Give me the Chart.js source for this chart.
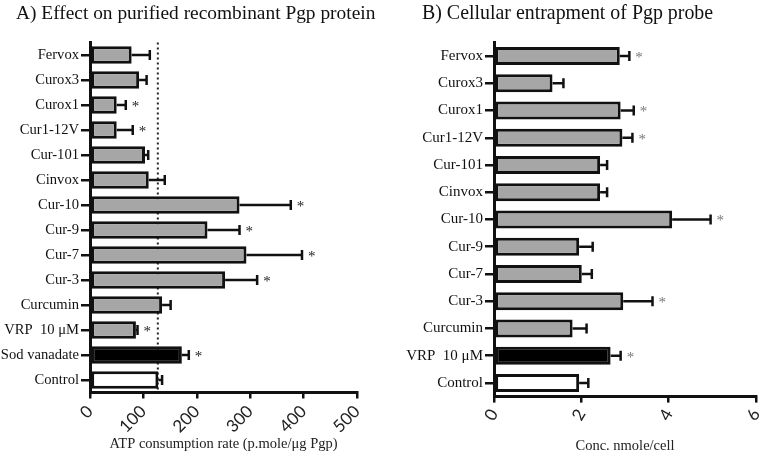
<!DOCTYPE html>
<html>
<head>
<meta charset="utf-8">
<script src="https://cdn.jsdelivr.net/npm/chart.js@4.4.0/dist/chart.umd.min.js"></script>
<style>
  body { margin: 0; background: #fff; }
  #wrap { position: relative; width: 763px; height: 455px; }
  canvas { position: absolute; top: 0; }
</style>
</head>
<body>
<div id="wrap">
  <canvas id="chartA" width="380" height="455" style="left:0"></canvas>
  <canvas id="chartB" width="383" height="455" style="left:380px"></canvas>
</div>
<script>
// panel A - ATP consumption
const labelsA = ['Fervox','Curox3','Curox1','Cur1-12V','Cur-101','Cinvox','Cur-10','Cur-9','Cur-7','Cur-3','Curcumin','VRP  10 \u03bcM','Sod vanadate','Control'];
const meanA = [78, 92, 50, 50, 103, 110, 280, 220, 293, 253, 135, 86, 172, 128];
const semA  = [34, 14, 17, 30, 6, 30, 96, 60, 104, 60, 16, 3, 13, 7];
const starA = [0, 0, 1, 1, 0, 0, 1, 1, 1, 1, 0, 1, 1, 0];
const controlA = 127;

// panel B - cellular entrapment
const labelsB = ['Fervox','Curox3','Curox1','Cur1-12V','Cur-101','Cinvox','Cur-10','Cur-9','Cur-7','Cur-3','Curcumin','VRP  10 \u03bcM','Control'];
const meanB = [2.88, 1.34, 2.90, 2.94, 2.43, 2.43, 4.08, 1.95, 2.01, 2.96, 1.80, 2.67, 1.95];
const semB  = [0.22, 0.25, 0.30, 0.23, 0.16, 0.16, 0.88, 0.31, 0.23, 0.67, 0.32, 0.23, 0.21];
const starB = [1, 0, 1, 1, 0, 0, 1, 0, 0, 1, 0, 1, 0];

const GREY = '#a6a6a6';
const fillsA = labelsA.map(l => l === 'Sod vanadate' ? '#000' : l === 'Control' ? '#fff' : GREY);
const fillsB = labelsB.map(l => l.startsWith('VRP') ? '#000' : l === 'Control' ? '#fff' : GREY);

const serif = '"Liberation Serif", "DejaVu Serif", serif';

// error bars + asterisks
const errorBars = {
  id: 'errorBars',
  afterDatasetsDraw(chart, args, o) {
    const ctx = chart.ctx, xs = chart.scales.x;
    const meta = chart.getDatasetMeta(0);
    ctx.save();
    ctx.strokeStyle = '#111';
    ctx.lineWidth = 2.5;
    meta.data.forEach((bar, i) => {
      const x0 = xs.getPixelForValue(o.mean[i]);
      const x1 = xs.getPixelForValue(o.mean[i] + o.sem[i]);
      const y = bar.y;
      ctx.beginPath();
      ctx.moveTo(x0, y); ctx.lineTo(x1, y);
      ctx.moveTo(x1, y - 5); ctx.lineTo(x1, y + 5);
      ctx.stroke();
      if (o.star[i]) {
        ctx.fillStyle = o.starColor;
        ctx.font = '15px ' + serif;
        ctx.textBaseline = 'middle';
        ctx.fillText('*', x1 + 6, y + 2);
      }
    });
    ctx.restore();
  }
};

// dotted control reference line (panel A)
const refLine = {
  id: 'refLine',
  beforeDatasetsDraw(chart, args, o) {
    if (o.value == null) return;
    const ctx = chart.ctx, a = chart.chartArea;
    const x = chart.scales.x.getPixelForValue(o.value);
    ctx.save();
    ctx.strokeStyle = '#222';
    ctx.lineWidth = 2;
    ctx.setLineDash([2, 3]);
    ctx.beginPath();
    ctx.moveTo(x, a.top); ctx.lineTo(x, a.bottom);
    ctx.stroke();
    ctx.restore();
  }
};

const panelTitle = {
  id: 'panelTitle',
  afterDraw(chart, args, o) {
    const ctx = chart.ctx;
    ctx.save();
    ctx.fillStyle = '#111';
    ctx.font = o.size + 'px ' + serif;
    ctx.textBaseline = 'middle';
    ctx.fillText(o.text, o.x, o.y);
    ctx.restore();
  }
};

function makeChart(id, labels, means, sem, stars, fills, cfg) {
  return new Chart(document.getElementById(id), {
    type: 'bar',
    data: {
      labels: labels,
      datasets: [{
        data: means,
        backgroundColor: fills,
        borderColor: '#111',
        borderWidth: 3,
        borderSkipped: false,
        barPercentage: cfg.barPct,
        categoryPercentage: 1
      }]
    },
    options: {
      indexAxis: 'y',
      responsive: false,
      animation: false,
      layout: { padding: { top: cfg.top, right: cfg.right, left: 0, bottom: 0 } },
      plugins: {
        legend: { display: false },
        tooltip: { enabled: false },
        errorBars: { mean: means, sem: sem, star: stars, starColor: cfg.starColor },
        refLine: { value: cfg.ref },
        panelTitle: { text: cfg.title, x: cfg.titleX, y: 14, size: cfg.titleSize }
      },
      scales: {
        x: {
          min: 0, max: cfg.max,
          ticks: {
            stepSize: cfg.step, maxRotation: cfg.rot, minRotation: cfg.rot,
            color: '#222', font: { family: 'Lato, "Open Sans", sans-serif', size: 17 }, padding: 3
          },
          grid: { drawOnChartArea: false, color: '#111', lineWidth: 2.5, tickLength: 6 },
          border: { color: '#111', width: 3 },
          title: {
            display: true, text: cfg.xTitle, color: '#222',
            font: { family: serif, size: cfg.xTitleSize }, padding: { top: 0, bottom: cfg.xTitlePad }
          },
          afterFit(s) { s.height = cfg.xHeight; s.paddingLeft = 0; s.paddingRight = 0; }
        },
        y: {
          ticks: { color: '#111', font: { family: serif, size: cfg.ySize }, padding: 2, autoSkip: false },
          grid: { drawOnChartArea: false, offset: false, color: '#111', lineWidth: 2.5, tickLength: 9 },
          border: { color: '#111', width: 3 },
          afterFit(s) { s.width = cfg.yWidth; }
        }
      }
    },
    plugins: [refLine, errorBars, panelTitle]
  });
}

makeChart('chartA', labelsA, meanA, semA, starA, fillsA, {
  barPct: 0.7, top: 42.5, right: 23, max: 500, step: 100, rot: 45, ref: controlA,
  xTitle: 'ATP consumption rate (p.mole/\u03bcg Pgp)', xTitleSize: 14.5, xTitlePad: 2,
  xHeight: 62.5, yWidth: 90, ySize: 14.6, starColor: '#222',
  title: 'A) Effect on purified recombinant Pgp protein', titleX: 16, titleSize: 19.4
});

makeChart('chartB', labelsB, meanB, semB, starB, fillsB, {
  barPct: 0.66, top: 42.4, right: 7, max: 6, step: 2, rot: 60, ref: null,
  xTitle: 'Conc. nmole/cell', xTitleSize: 14.5, xTitlePad: 0,
  xHeight: 58.4, yWidth: 114, ySize: 15, starColor: '#777',
  title: 'B) Cellular entrapment of Pgp probe', titleX: 42, titleSize: 19.9
});
</script>
</body>
</html>
